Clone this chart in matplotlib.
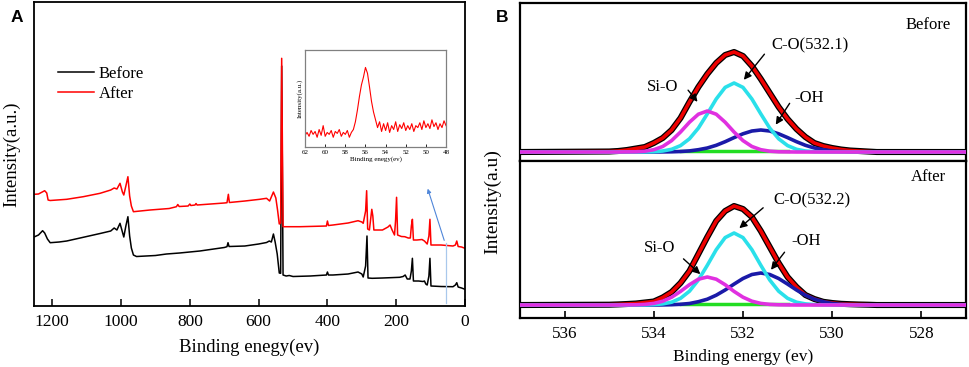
import numpy as np
import matplotlib.pyplot as plt

plt.rcParams['font.family'] = ['Liberation Serif', 'DejaVu Serif']

# ---- Panel A: XPS survey (binding energy in eV, relative intensity) ----
before_e = [1253, 1240, 1228, 1222, 1214, 1206, 1180, 1158, 1110, 1061, 1030, 1020, 1012,
            1003, 996, 992, 986, 980, 975, 970, 964, 955, 900, 868, 830, 771, 700, 692,
            689, 686, 640, 600, 577, 569, 563, 557, 552, 546, 540, 536, 533, 529, 520,
            511, 500, 450, 403, 400, 397, 384, 340, 311, 300, 296, 289, 285, 282, 270,
            240, 190, 180, 174, 168, 160, 156, 153, 150, 135, 122, 118, 114, 110, 105,
            102, 99, 70, 35, 28, 24, 20, 10, 0]
before_i = [69, 71, 75.3, 73, 67, 63.3, 64, 65, 68.7, 72.5, 75, 78, 76,
            82.7, 74, 69, 80, 89.3, 70, 58, 51, 49.5, 50.5, 52, 53, 55, 58.5, 59.3,
            63.3, 59.5, 60, 62, 63.5, 65, 64, 72, 64, 52, 33, 32.7, 240, 31, 30,
            30.5, 29.5, 30, 31, 34, 31, 31, 32, 34, 32, 29, 40, 70, 28, 27.7,
            28, 28.7, 29.5, 31, 27, 27, 35, 47.7, 25, 25, 24.5, 25, 22, 21, 30,
            47.7, 20, 19.5, 19.3, 21, 23.3, 19, 18, 16.7]

after_e = [1253, 1240, 1222, 1216, 1212, 1206, 1158, 1110, 1061, 1030, 1020, 1012, 1003,
           996, 992, 986, 980, 975, 970, 964, 916, 860, 839, 835, 831, 805, 800, 797,
           785, 782, 779, 700, 692, 688, 685, 640, 597, 577, 568, 557, 550, 545, 540,
           536, 533, 529, 480, 403, 400, 397, 384, 340, 311, 300, 296, 289, 286, 283,
           278, 271, 268, 265, 240, 224, 218, 212, 205, 202, 199, 196, 185, 175, 165,
           159, 156, 153, 150, 140, 125, 118, 110, 105, 102, 99, 70, 35, 28, 24,
           20, 10, 0]
after_i = [111.7, 112, 115.3, 113, 106, 105.5, 106.7, 109.3, 112.7, 116, 118, 117, 122.7,
           114, 111, 120, 129.3, 110, 100, 94.3, 96, 97.5, 99.3, 101.5, 99.5, 100, 102, 100.5,
           101, 102.5, 101, 103, 103.3, 111.7, 103.5, 105, 106.7, 107.7, 105, 114, 108, 96, 82,
           83, 247.7, 79.3, 79.3, 80, 85, 80.5, 81, 83, 85.3, 84, 82.7, 95, 115.3, 77,
           76, 96.7, 90, 76, 76, 79, 81, 76, 71, 85, 108.7, 71, 69.5, 69.3, 68,
           68, 80, 86.7, 66, 66, 66.5, 65, 62, 70, 86.7, 61, 61, 60, 61, 65,
           59.5, 59, 57.7]

# inset: Si 2p region of the "After" sample
inset_e = np.linspace(62, 48, 71)
inset_i = [12, 15, 11, 17, 13, 16, 10, 18, 12, 22, 11, 15, 13, 17, 10, 16, 14, 18, 11, 15,
           13, 17, 10, 15, 18, 26, 38, 52, 64, 72, 82, 76, 62, 47, 36, 28, 20, 26, 16, 24,
           17, 25, 15, 22, 18, 26, 16, 23, 19, 25, 17, 22, 18, 24, 16, 22, 20, 25, 18, 27,
           20, 24, 19, 28, 21, 25, 18, 24, 20, 27, 22]

# ---- Panel B: O 1s fitted components ----
energy_b = np.concatenate([[537.0], np.linspace(535.0, 529.0, 31), [527.0]])

env_before = [0, 0.5, 1, 2, 3.5, 5, 9, 14, 22, 34, 50, 65, 78, 89, 97, 100, 96, 86, 73,
              59, 45, 33, 23, 15, 9, 6, 4, 2.5, 1.5, 1, 0.5, 0, 0]
siO_before = [0, 0, 0, 0.1, 0.2, 0.8, 2.3, 5.5, 11.4, 20.0, 29.8, 37.8, 41.0, 37.8, 29.8, 20.0,
              11.4, 5.5, 2.3, 0.8, 0.2, 0.1, 0, 0, 0, 0, 0, 0, 0, 0, 0, 0, 0]
co_before = [0, 0, 0, 0, 0, 0.1, 0.3, 1.0, 2.7, 6.4, 13.2, 23.9, 38.1, 53.0, 64.6, 69.0,
             64.6, 53.0, 38.1, 23.9, 13.2, 6.4, 2.7, 1.0, 0.3, 0.1, 0, 0, 0, 0, 0, 0, 0]
oh_before = [0, 0, 0, 0, 0, 0, 0, 0.1, 0.2, 0.5, 1.1, 2.3, 4.0, 6.7, 10.3, 14.4, 18.2,
             21.0, 22.0, 21.0, 18.2, 14.4, 10.3, 6.7, 4.0, 2.3, 1.1, 0.5, 0.2, 0.1, 0, 0, 0]

env_after = [0, 0.3, 0.6, 1, 1.5, 2.5, 3.5, 7.5, 13, 22, 34, 51, 68, 84, 94, 99, 96, 88, 74,
             58, 42, 28, 18, 10, 6, 3.2, 2, 1.2, 0.8, 0.5, 0.3, 0, 0]
siO_after = [0, 0, 0, 0.1, 0.2, 0.6, 1.6, 3.8, 7.8, 13.6, 20.3, 25.8, 28.0, 25.8, 20.3, 13.6,
             7.8, 3.8, 1.6, 0.6, 0.2, 0.1, 0, 0, 0, 0, 0, 0, 0, 0, 0, 0, 0]
co_after = [0, 0, 0, 0, 0, 0.1, 0.4, 1.1, 2.8, 6.7, 13.8, 25.0, 39.7, 55.3, 67.4, 72.0,
            67.4, 55.3, 39.7, 25.0, 13.8, 6.7, 2.8, 1.1, 0.4, 0.1, 0, 0, 0, 0, 0, 0, 0]
oh_after = [0, 0, 0, 0, 0, 0, 0, 0.1, 0.3, 0.7, 1.5, 3.3, 5.8, 9.8, 15.0, 20.9, 26.5,
            30.5, 32.0, 30.5, 26.5, 20.9, 15.0, 9.8, 5.8, 3.3, 1.5, 0.7, 0.3, 0.1, 0, 0, 0]

background_e = [533.4, 531.0]
background_i = [0.6, 0.6]

fig = plt.figure(figsize=(9.69, 3.67), dpi=100)

# ---------------- Panel A ----------------
axA = fig.add_axes([0.0351, 0.1662, 0.4448, 0.8283])
axA.plot(before_e, before_i, color='black', lw=1.1, label='Before')
axA.plot(after_e, after_i, color='red', lw=1.1, label='After')
axA.set_xlim(1253, 0)
axA.set_ylim(0, 304)
axA.set_yticks([])
axA.set_xticks([1200, 1000, 800, 600, 400, 200, 0])
axA.tick_params(axis='x', direction='in', length=5, width=1.1, labelsize=12.5, pad=6)
for s in axA.spines.values():
    s.set_linewidth(1.3)
axA.set_xlabel('Binding enegy(ev)', fontsize=13.5, labelpad=6)
axA.set_ylabel('Intensity(a.u.)', fontsize=13.5, labelpad=10)
axA.legend(loc='upper left', bbox_to_anchor=(0.055, 0.79), frameon=False, fontsize=12,
           handlelength=2.2, handletextpad=0.25, labelspacing=0.22, borderpad=0,
           borderaxespad=0)

# arrow pointing from the Si 2p region to the inset
axA.annotate('', xy=(111, 120), xytext=(58, 63),
             arrowprops=dict(arrowstyle='-|>', color='#4f86d9', lw=0.8,
                             mutation_scale=6))
axA.plot([56, 56], [63, 3], color='#a9c8ec', lw=0.9)

# inset
axI = fig.add_axes([0.3148, 0.5995, 0.1455, 0.2643])
axI.plot(inset_e, inset_i, color='red', lw=0.8)
axI.set_xlim(62, 48)
axI.set_ylim(0, 100)
axI.set_yticks([])
axI.set_xticks([62, 60, 58, 56, 54, 52, 50, 48])
axI.tick_params(axis='x', direction='in', length=2, width=0.6, labelsize=5, pad=2)
for s in axI.spines.values():
    s.set_linewidth(0.9)
    s.set_color('#808080')
axI.set_xlabel('Binding enegy(ev)', fontsize=5, labelpad=1)
axI.set_ylabel('Intensity(a.u.)', fontsize=5, labelpad=2)

fig.text(0.0175, 0.953, 'A', fontsize=12.5, fontweight='bold', family='Liberation Sans',
         ha='center', va='center')

# ---------------- Panel B ----------------
panels = [
    (env_before, siO_before, co_before, oh_before, (-9, 149), 'Before', 'C-O(532.1)',
     [(533.80, 65), (533.27, 64), (532.98, 48)],
     [(530.49, 107), (531.48, 100), (532.02, 70)],
     [(530.52, 54), (530.92, 51), (531.30, 25)]),
    (env_after, siO_after, co_after, oh_after, (-13, 144), 'After', 'C-O(532.2)',
     [(533.86, 57), (533.38, 48), (532.91, 29)],
     [(530.46, 105), (531.50, 99), (532.13, 75)],
     [(530.59, 64), (531.03, 55), (531.41, 33)]),
]
bottoms = [0.5613, 0.1335]
heights = [0.4305, 0.4278]

axes_b = []
for k, (env, si, co, oh, ylim, tag, co_label, si_pos, co_pos, oh_pos) in enumerate(panels):
    ax = fig.add_axes([0.5366, bottoms[k], 0.4603, heights[k]])
    axes_b.append(ax)
    ax.plot(energy_b, env, color='black', lw=4.4, zorder=1)
    ax.plot(energy_b, env, color='#ee0000', lw=2.6, zorder=2)
    ax.plot(background_e, background_i, color='#22dd22', lw=2.5, zorder=3)
    ax.plot(energy_b, oh, color='#1a1aa8', lw=2.6, zorder=4)
    ax.plot(energy_b, co, color='#2ae0ea', lw=2.6, zorder=5)
    ax.plot(energy_b, si, color='#e030e0', lw=2.6, zorder=6)
    ax.set_xlim(537, 527)
    ax.set_ylim(*ylim)
    ax.set_yticks([])
    for s in ax.spines.values():
        s.set_linewidth(1.6)

    arrow = dict(arrowstyle='-|>', color='black', lw=1.0, mutation_scale=11)
    ax.text(si_pos[0][0], si_pos[0][1], 'Si-O', fontsize=12, ha='center', va='center')
    ax.annotate('', xy=si_pos[2], xytext=si_pos[1], arrowprops=arrow, zorder=8)
    ax.text(co_pos[0][0], co_pos[0][1], co_label, fontsize=12, ha='center', va='center')
    ax.annotate('', xy=co_pos[2], xytext=co_pos[1], arrowprops=arrow, zorder=8)
    ax.text(oh_pos[0][0], oh_pos[0][1], '-OH', fontsize=12, ha='center', va='center')
    ax.annotate('', xy=oh_pos[2], xytext=oh_pos[1], arrowprops=arrow, zorder=8)
    ax.text(527.85, 127 if k == 0 else 128, tag, fontsize=12, ha='center', va='center')

axes_b[0].set_xticks([])
axes_b[1].set_xticks([536, 534, 532, 530, 528])
axes_b[1].tick_params(axis='x', direction='in', length=5, width=1.2, labelsize=12.3, pad=6)
axes_b[1].set_xlabel('Binding energy (ev)', fontsize=12.5, labelpad=5)
fig.text(0.508, 0.452, 'Intensity(a.u)', fontsize=14, rotation=90, ha='center', va='center')
fig.text(0.518, 0.953, 'B', fontsize=12.5, fontweight='bold', family='Liberation Sans',
         ha='center', va='center')

fig.savefig('out.png', dpi=100)
